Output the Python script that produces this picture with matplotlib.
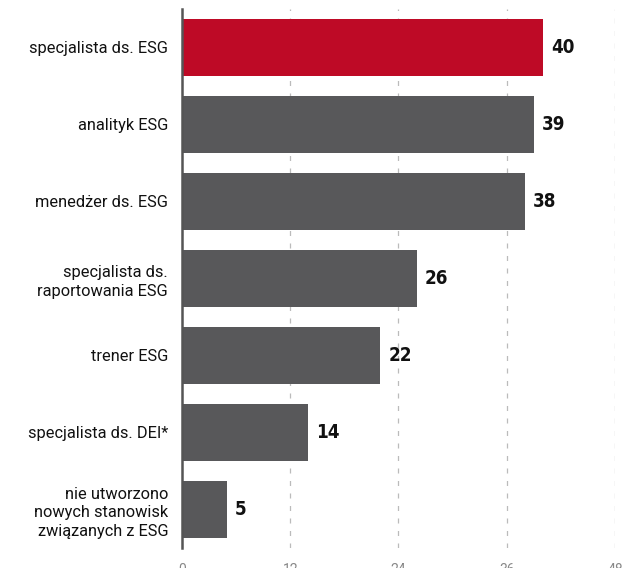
import matplotlib
matplotlib.use("Agg")
import matplotlib.pyplot as plt

categories = ["specjalista ds. ESG", "analityk ESG", "menedżer ds. ESG",
              "specjalista ds.\nraportowania ESG", "trener ESG",
              "specjalista ds. DEI*", "nie utworzono\nnowych stanowisk\nzwiązanych z ESG"]
values = [40, 39, 38, 26, 22, 14, 5]
xticks = [0, 12, 24, 36, 48]

fig = plt.figure(figsize=(6.26, 5.68), dpi=100)
ax = fig.add_axes([0.2907, 0.0352, 0.6917, 0.9490])

colors = ["#BE0A26"] + ["#58585A"] * (len(values) - 1)
ypos = list(range(len(values)))
ax.barh(ypos, values, height=0.73, color=colors, zorder=2)
ax.set_ylim(len(values) - 0.5, -0.5)
ax.set_xlim(0, 48)

for y, v in zip(ypos, values):
    ax.text(v + 0.9, y, str(v), va="center", ha="left", fontsize=13.5,
            fontweight="bold", family="DejaVu Sans", fontstretch="condensed", color="#111111")

ax.set_yticks(ypos)
ax.set_yticklabels(categories, fontsize=11.8, family="Roboto", color="#111111", linespacing=1.3)
ax.tick_params(axis="y", length=0, pad=10)
ax.set_xticks(xticks)
ax.set_xticklabels([str(t) for t in xticks], fontsize=10, color="#888888", family="Roboto")
ax.tick_params(axis="x", length=0, pad=11)

ax.grid(axis="x", linestyle=(0, (4, 6)), color="#bbbbbb", linewidth=0.9, zorder=0)
for s in ["top", "right", "bottom"]:
    ax.spines[s].set_visible(False)
ax.spines["left"].set_color("#555555")
ax.spines["left"].set_linewidth(1.8)
ax.spines["left"].set_zorder(3)

fig.savefig("out.png", dpi=100)
